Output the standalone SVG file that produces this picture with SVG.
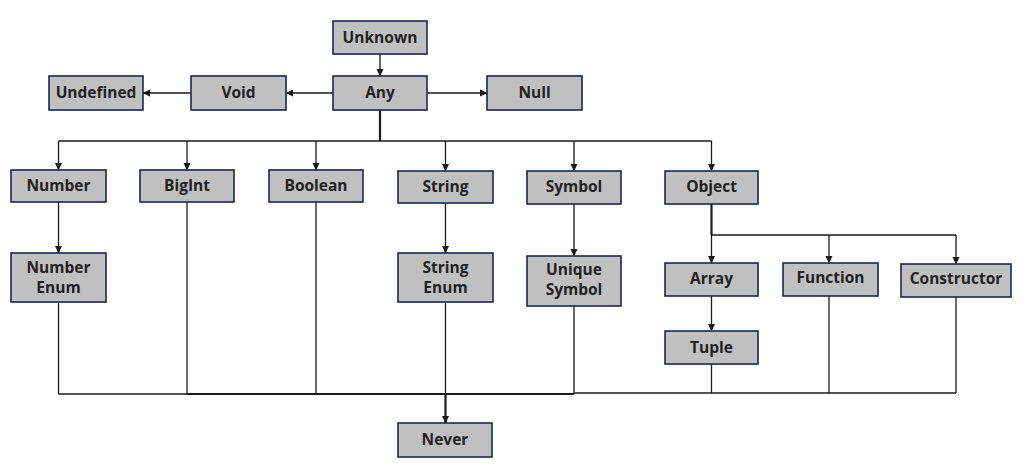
<svg xmlns="http://www.w3.org/2000/svg" width="1031" height="476" viewBox="0 0 1031 476">
<defs>
<marker id="ah" markerWidth="8" markerHeight="8" refX="7" refY="4" orient="auto" markerUnits="userSpaceOnUse">
<path d="M0,0.5 L7.5,4 L0,7.5 Z" fill="#1a1a1a"/>
</marker>
<style>
.n rect{fill:#c0c0c0;stroke:#1c2650;stroke-width:1.6}
.n text{font-family:"Open Sans","Noto Sans",sans-serif;font-weight:bold;font-size:15.5px;fill:#222;text-anchor:middle}
.c path,.c line{fill:none;stroke:#1a1a1a;stroke-width:1.3}
.c .a{marker-end:url(#ah)}
.c .t{stroke-width:2.2}
</style>
</defs>
<rect width="1031" height="476" fill="#fff"/>
<g class="c">
<line class="a" x1="380" y1="54" x2="380" y2="76"/>
<line class="a" x1="333" y1="93" x2="286" y2="93"/>
<line class="a" x1="191" y1="93" x2="143" y2="93"/>
<line class="a" x1="427" y1="93" x2="487" y2="93"/>
<line class="t" x1="380" y1="110" x2="380" y2="141"/>
<line x1="58.5" y1="141" x2="711.5" y2="141"/>
<line class="a" x1="58.5" y1="141" x2="58.5" y2="170"/>
<line class="a" x1="187" y1="141" x2="187" y2="170"/>
<line class="a" x1="316" y1="141" x2="316" y2="170"/>
<line class="a" x1="445.5" y1="141" x2="445.5" y2="171"/>
<line class="a" x1="574" y1="141" x2="574" y2="171"/>
<line class="a" x1="711.5" y1="141" x2="711.5" y2="171"/>
<line class="a" x1="58.5" y1="202" x2="58.5" y2="253"/>
<line class="a" x1="445.5" y1="203" x2="445.5" y2="253"/>
<line class="a" x1="574" y1="204" x2="574" y2="256"/>
<line class="t" x1="711.5" y1="204" x2="711.5" y2="235"/>
<line x1="711.5" y1="235" x2="956" y2="235"/>
<line class="a" x1="711.5" y1="235" x2="711.5" y2="263"/>
<line class="a" x1="829" y1="235" x2="829" y2="263"/>
<line class="a" x1="956" y1="235" x2="956" y2="264"/>
<line class="a" x1="711.5" y1="296" x2="711.5" y2="331"/>
<line x1="58.5" y1="302" x2="58.5" y2="394"/>
<line x1="187" y1="202" x2="187" y2="394"/>
<line x1="316" y1="202" x2="316" y2="394"/>
<line x1="445.5" y1="302" x2="445.5" y2="394"/>
<line x1="574" y1="306" x2="574" y2="394"/>
<line x1="711.5" y1="364" x2="711.5" y2="393"/>
<line x1="829" y1="296" x2="829" y2="393"/>
<line x1="956" y1="297" x2="956" y2="393"/>
<line x1="58.5" y1="394" x2="187" y2="394"/>
<line class="t" x1="187" y1="394" x2="574" y2="394"/>
<line x1="574" y1="393" x2="956" y2="393"/>
<line class="t a" x1="445.5" y1="394" x2="445.5" y2="423"/>
</g>
<g class="n" id="unknown"><rect x="333" y="21" width="94" height="33"/><text x="380" y="43">Unknown</text></g>
<g class="n" id="any"><rect x="333" y="76" width="94" height="34"/><text x="380" y="98">Any</text></g>
<g class="n" id="void"><rect x="191" y="76" width="95" height="34"/><text x="238.5" y="98">Void</text></g>
<g class="n" id="undefined"><rect x="49" y="76" width="94" height="34"/><text x="96" y="98">Undefined</text></g>
<g class="n" id="null"><rect x="487" y="76" width="95" height="34"/><text x="534.5" y="98">Null</text></g>
<g class="n" id="number"><rect x="11" y="170" width="95" height="32"/><text x="58.5" y="191">Number</text></g>
<g class="n" id="bigint"><rect x="140" y="170" width="94" height="32"/><text x="187" y="191">BigInt</text></g>
<g class="n" id="boolean"><rect x="269" y="170" width="94" height="32"/><text x="316" y="191">Boolean</text></g>
<g class="n" id="string"><rect x="398" y="171" width="95" height="32"/><text x="445.5" y="192">String</text></g>
<g class="n" id="symbol"><rect x="527" y="171" width="94" height="33"/><text x="574" y="192">Symbol</text></g>
<g class="n" id="object"><rect x="665" y="171" width="93" height="33"/><text x="711.5" y="192">Object</text></g>
<g class="n" id="number-enum"><rect x="11" y="253" width="95" height="49"/><text x="58.5" y="273">Number</text><text x="58.5" y="293">Enum</text></g>
<g class="n" id="string-enum"><rect x="398" y="253" width="95" height="49"/><text x="445.5" y="273">String</text><text x="445.5" y="293">Enum</text></g>
<g class="n" id="unique-symbol"><rect x="527" y="256" width="94" height="50"/><text x="574" y="275">Unique</text><text x="574" y="295">Symbol</text></g>
<g class="n" id="array"><rect x="665" y="263" width="93" height="33"/><text x="711.5" y="284">Array</text></g>
<g class="n" id="function"><rect x="783" y="263" width="95" height="33"/><text x="830.5" y="283">Function</text></g>
<g class="n" id="constructor"><rect x="901" y="264" width="110" height="33"/><text x="956" y="284">Constructor</text></g>
<g class="n" id="tuple"><rect x="665" y="331" width="93" height="33"/><text x="711.5" y="353">Tuple</text></g>
<g class="n" id="never"><rect x="398" y="423" width="94" height="34"/><text x="445" y="445">Never</text></g>
</svg>
